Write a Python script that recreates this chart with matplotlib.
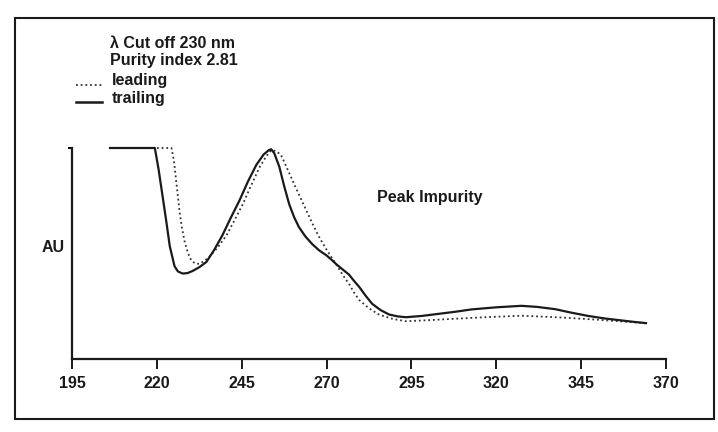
import matplotlib.pyplot as plt
from matplotlib.patches import Rectangle

# wavelength (nm) and absorbance (AU, normalised)
trail_nm = [206.2, 219.4, 220.5, 221.7, 222.8, 223.8, 225.2, 226.2, 227.6, 229.0,
            230.5, 232.5, 234.6, 237.0, 239.3, 241.8, 244.3, 246.8, 249.3, 251.5,
            253.0, 253.7, 254.6, 256.1, 257.5, 259.0, 260.5, 261.9, 263.8, 265.8,
            267.8, 269.9, 271.5, 272.8, 274.7, 276.6, 278.1, 279.6, 281.5, 283.4,
            285.9, 288.4, 290.9, 293.4, 298.0, 303.0, 308.0, 312.7, 320.0, 327.4,
            332.0, 337.4, 342.0, 347.1, 352.0, 356.8, 360.5, 364.1]
trail_au = [1.0, 1.0, 0.9, 0.77, 0.65, 0.535, 0.44, 0.415, 0.405, 0.407,
            0.417, 0.435, 0.46, 0.52, 0.586, 0.67, 0.75, 0.84, 0.92, 0.97,
            0.99, 0.994, 0.975, 0.91, 0.82, 0.733, 0.67, 0.624, 0.58, 0.544,
            0.515, 0.492, 0.47, 0.45, 0.425, 0.40, 0.37, 0.342, 0.30, 0.262,
            0.232, 0.211, 0.202, 0.198, 0.204, 0.214, 0.224, 0.235, 0.245, 0.252,
            0.247, 0.236, 0.22, 0.204, 0.192, 0.183, 0.176, 0.17]

lead_nm = [206.2, 224.3, 224.8, 225.2, 226.0, 226.7, 227.4, 228.2, 229.2, 230.2,
           231.4, 232.6, 234.0, 235.5, 238.0, 240.5, 242.8, 245.2, 247.7, 250.2,
           252.2, 253.7, 255.2, 256.6, 258.2, 259.9, 262.0, 264.0, 265.9, 267.8,
           270.3, 272.8, 274.7, 276.6, 278.1, 279.6, 282.5, 285.5, 289.5, 293.4,
           300.0, 308.1, 318.0, 327.4, 335.0, 342.1, 350.0, 356.8, 364.1]
lead_au = [1.0, 1.0, 0.96, 0.916, 0.80, 0.697, 0.62, 0.555, 0.50, 0.465,
           0.452, 0.451, 0.465, 0.485, 0.53, 0.586, 0.655, 0.73, 0.82, 0.907,
           0.96, 0.99, 0.985, 0.966, 0.91, 0.848, 0.775, 0.705, 0.64, 0.578,
           0.51, 0.45, 0.40, 0.356, 0.315, 0.28, 0.24, 0.21, 0.19, 0.179,
           0.184, 0.191, 0.199, 0.205, 0.20, 0.194, 0.186, 0.178, 0.17]

xticks = [195, 220, 245, 270, 295, 320, 345, 370]

plt.rcParams['font.family'] = ['Liberation Sans', 'DejaVu Sans']
ink = '#1a1a1a'
dots = (0, (1, 1.6))

fig = plt.figure(figsize=(7.18, 4.32), dpi=100)
ax = fig.add_axes([72 / 718, 1 - 359 / 432, 594 / 718, 211 / 432])

ax.plot(lead_nm, lead_au, color='#333333', lw=1.3, ls=dots, clip_on=False)
ax.plot(trail_nm, trail_au, color=ink, lw=1.6, clip_on=False)

ax.set_xlim(195, 370)
ax.set_ylim(0, 1)
ax.set_xticks(xticks)
ax.set_yticks([1])
ax.set_yticklabels([''])
ax.tick_params(axis='x', direction='out', length=7, width=1.4, pad=5,
               labelsize=11.5, color=ink)
ax.tick_params(axis='y', direction='out', length=3, width=1.4)
for lab in ax.get_xticklabels():
    lab.set_fontweight('bold')
    lab.set_color(ink)

for s in ['top', 'right']:
    ax.spines[s].set_visible(False)
for s in ['left', 'bottom']:
    ax.spines[s].set_linewidth(1.6)
    ax.spines[s].set_color(ink)


# text placed in figure pixels, measured from the top-left
def ftxt(x, y, s):
    fig.text(x / 718, 1 - y / 432, s, fontsize=11.5, fontweight='bold',
             va='center', ha='left', color=ink)


ftxt(110, 43, 'λ Cut off 230 nm')
ftxt(110, 61, 'Purity index 2.81')
ftxt(112, 81, 'leading')
ftxt(112, 99, 'trailing')
ftxt(377, 197, 'Peak Impurity')
ftxt(42, 248, 'AU')

fig.add_artist(plt.Line2D([76 / 718, 102 / 718], [1 - 85 / 432, 1 - 85 / 432],
                          color='#333333', lw=1.3, ls=dots))
fig.add_artist(plt.Line2D([76 / 718, 102 / 718], [1 - 102 / 432, 1 - 102 / 432],
                          color=ink, lw=1.8))

fig.patches.append(Rectangle((15 / 718, 1 - 419 / 432), 699 / 718, 401 / 432,
                             transform=fig.transFigure, fill=False,
                             edgecolor=ink, lw=1.5))

fig.savefig('out.png', dpi=100)
